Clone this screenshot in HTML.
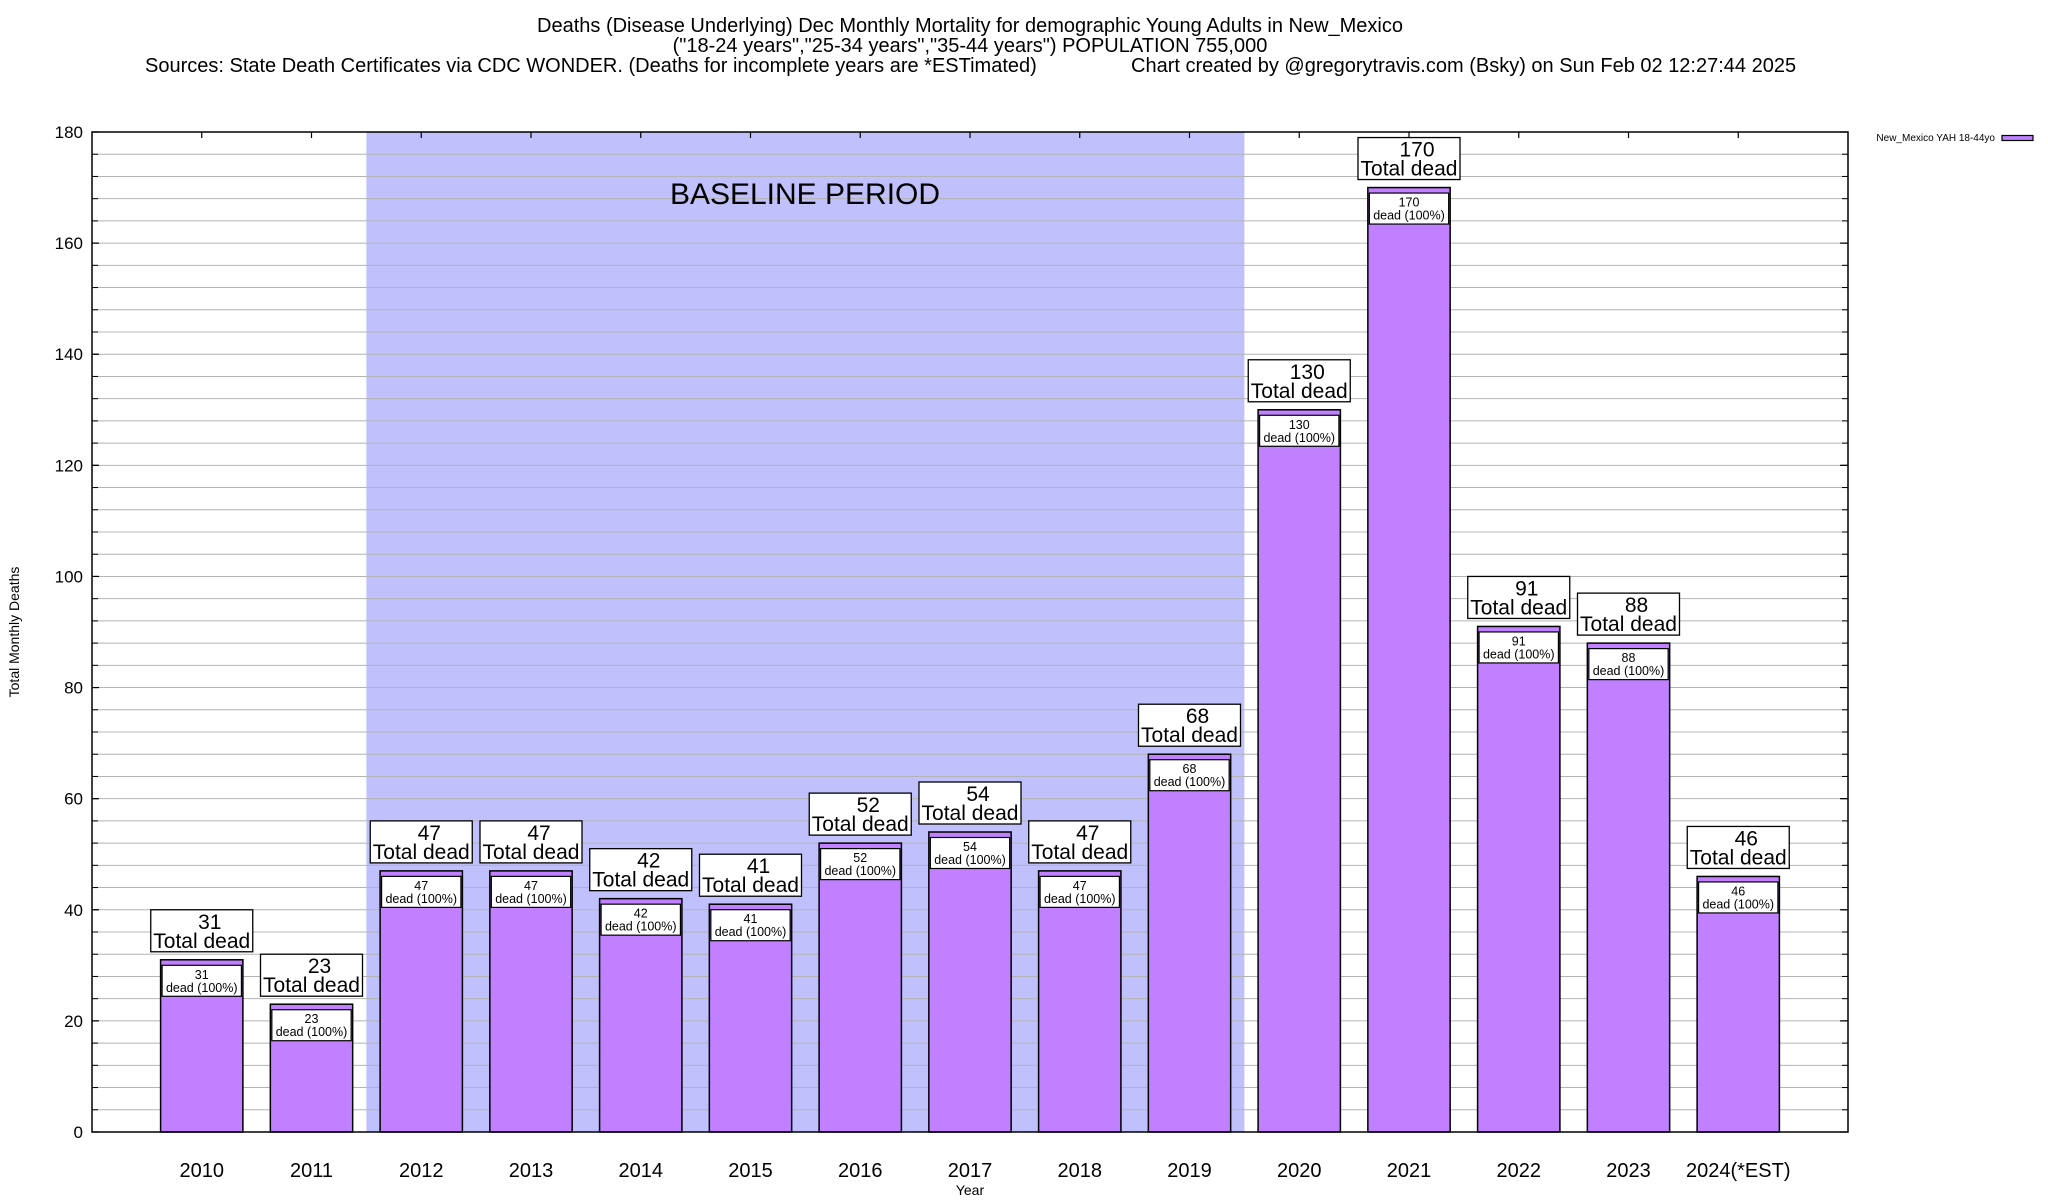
<!DOCTYPE html>
<html><head><meta charset="utf-8"><style>
html,body{margin:0;padding:0;background:#fff;}
svg{display:block;font-family:"Liberation Sans",Arial,sans-serif;}
</style></head><body>
<svg id="chart" width="2048" height="1200" viewBox="0 0 2048 1200" xmlns="http://www.w3.org/2000/svg">
<g>
<text x="970" y="32" font-size="20" text-anchor="middle">Deaths (Disease Underlying) Dec Monthly Mortality for demographic Young Adults in New_Mexico</text>
<text x="970" y="52" font-size="20" text-anchor="middle">("18-24 years","25-34 years","35-44 years") POPULATION 755,000</text>
<text x="145" y="72" font-size="20">Sources: State Death Certificates via CDC WONDER. (Deaths for incomplete years are *ESTimated)</text>
<text x="1131" y="72" font-size="20">Chart created by @gregorytravis.com (Bsky) on Sun Feb 02 12:27:44 2025</text>
</g>
<g id="plot"></g>
<text x="0" y="0" font-size="14" text-anchor="middle" transform="translate(19,632) rotate(-90)">Total Monthly Deaths</text>
<text x="970" y="1195" font-size="14" text-anchor="middle">Year</text>
<g>
<text x="1995" y="141" font-size="10" text-anchor="end">New_Mexico YAH 18-44yo</text>
<rect x="2002" y="135.5" width="31" height="5" fill="#c080ff" stroke="#000" stroke-width="1.2"/>
</g>
</svg>
<script>
const categories = ["2010","2011","2012","2013","2014","2015","2016","2017","2018","2019","2020","2021","2022","2023","2024(*EST)"];
const deaths = [31,23,47,47,42,41,52,54,47,68,130,170,91,88,46];
const yTicks = [0,20,40,60,80,100,120,140,160,180];
const baselineStart = 1.5;
const baselineEnd = 9.5;

const NS = "http://www.w3.org/2000/svg";
const L = 92, R = 1848, T = 132, B = 1132;
const xMin = -1, xMax = 15, yMin = 0, yMax = 180;
function xs(v){ return L + (v - xMin) / (xMax - xMin) * (R - L); }
function ys(v){ return B - (v - yMin) / (yMax - yMin) * (B - T); }
const plot = document.getElementById('plot');
function mk(tag, attrs, parent){
  const e = document.createElementNS(NS, tag);
  for (const k in attrs) e.setAttribute(k, attrs[k]);
  (parent || plot).appendChild(e);
  return e;
}
let sh = mk('rect', {x: xs(baselineStart), y: T, width: xs(baselineEnd) - xs(baselineStart), height: B - T, fill: '#c0c0fc'});


for (let v = 4; v < yMax; v += 4) {
  let g = mk('line', {x1: L, x2: R, y1: ys(v), y2: ys(v), stroke: '#b4b4b4', 'stroke-width': 1});
  
  
  mk('line', {x1: L, x2: L + 6, y1: ys(v), y2: ys(v), stroke: '#000', 'stroke-width': 1});
  mk('line', {x1: R - 6, x2: R, y1: ys(v), y2: ys(v), stroke: '#000', 'stroke-width': 1});
}
yTicks.forEach(v => {
  mk('line', {x1: L, x2: L + 7, y1: ys(v), y2: ys(v), stroke: '#000', 'stroke-width': 1.2});
  mk('line', {x1: R - 8, x2: R, y1: ys(v), y2: ys(v), stroke: '#000', 'stroke-width': 1.2});
  let t = mk('text', {x: 83, y: ys(v) + 6, 'font-size': 17, 'text-anchor': 'end'});
  t.textContent = v;
  
  
});
let bl = mk('text', {x: 805, y: 204, 'font-size': 30, 'text-anchor': 'middle'});
bl.textContent = 'BASELINE PERIOD';


const bw = 0.75;
categories.forEach((c, i) => {
  const v = deaths[i];
  const x0 = xs(i - bw / 2), x1 = xs(i + bw / 2), cx = xs(i), yt = ys(v);
  mk('line', {x1: cx, x2: cx, y1: T, y2: T + 6, stroke: '#000', 'stroke-width': 1.2});
  let bar = mk('rect', {x: x0, y: yt, width: x1 - x0, height: B - yt, fill: '#c080ff', stroke: '#000', 'stroke-width': 1.5});
  
  
  let ib = mk('rect', {x: x0 + 1.5, y: yt + 5.5, width: x1 - x0 - 3, height: 31, fill: '#fff', stroke: '#000', 'stroke-width': 1.2});
  
  
  let t1 = mk('text', {x: cx, y: yt + 19, 'font-size': 12.5, 'text-anchor': 'middle'});
  t1.textContent = v;
  
  
  let t2 = mk('text', {x: cx, y: yt + 32, 'font-size': 12.5, 'text-anchor': 'middle'});
  t2.textContent = 'dead (100%)';
  
  
  const bwid = 102;
  let ob = mk('rect', {x: cx - bwid / 2, y: yt - 50, width: bwid, height: 42, fill: '#fff', stroke: '#000', 'stroke-width': 1.3});
  
  
  let t3 = mk('text', {x: cx + 8, y: yt - 31, 'font-size': 21, 'text-anchor': 'middle'});
  t3.textContent = v;
  
  
  let t4 = mk('text', {x: cx, y: yt - 12, 'font-size': 21, 'text-anchor': 'middle'});
  t4.textContent = 'Total dead';
  
  
  let xl = mk('text', {x: cx, y: 1177, 'font-size': 20, 'text-anchor': 'middle'});
  xl.textContent = c;
  
  
});
let fr = mk('rect', {x: L, y: T, width: R - L, height: B - T, fill: 'none', stroke: '#000', 'stroke-width': 1.5});


</script>
</body></html>
